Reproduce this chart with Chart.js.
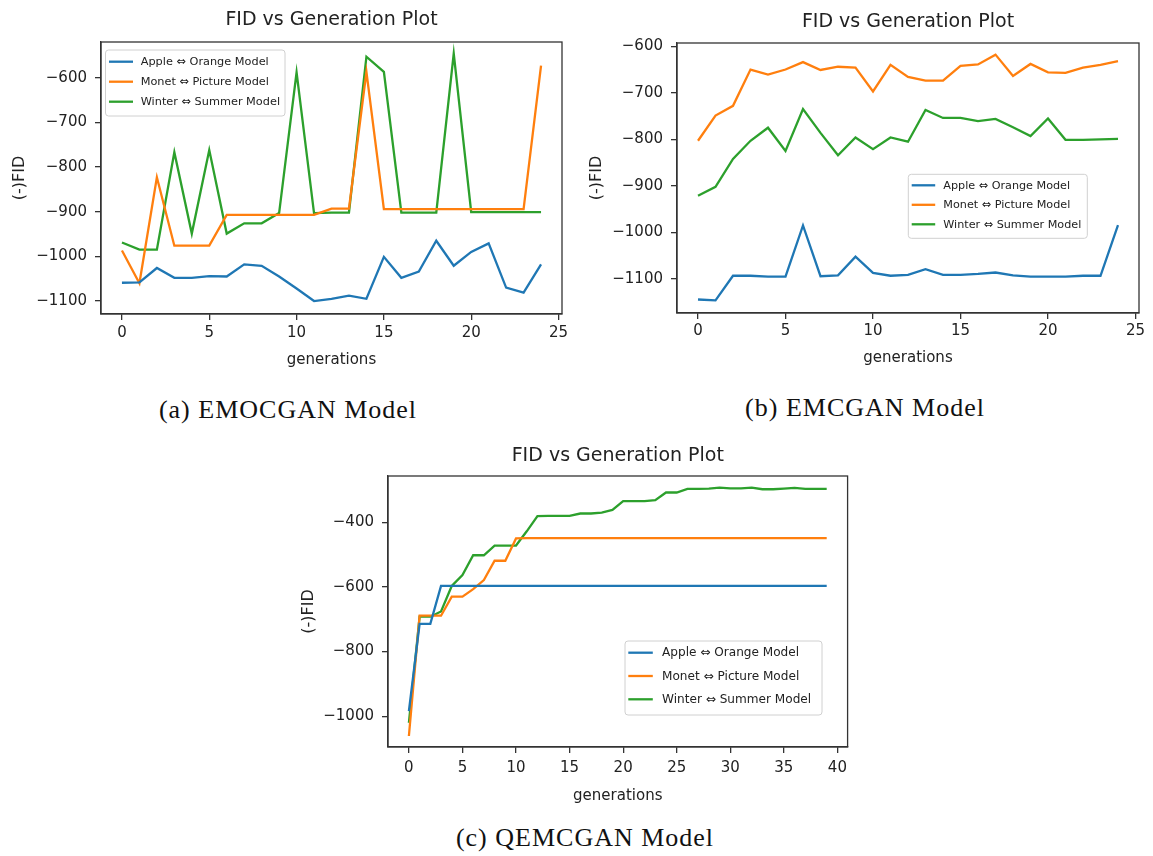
<!DOCTYPE html>
<html>
<head>
<meta charset="utf-8">
<script src="https://cdn.jsdelivr.net/npm/chart.js@4.4.1/dist/chart.umd.min.js"></script>
<style>
body { margin: 0; background: #fff; }
#page { position: relative; width: 1153px; height: 856px; overflow: hidden; background: #fff; }
canvas { position: absolute; }
.cap { position: absolute; font-family: "Liberation Serif", serif; font-size: 26px; letter-spacing: 1px; line-height: 30px; color: #111; white-space: nowrap; transform: translateX(-50%); }
</style>
</head>
<body>
<div id="page">
  <canvas id="chartA" width="580" height="375" style="left:0px;top:0px"></canvas>
  <canvas id="chartB" width="573" height="375" style="left:580px;top:0px"></canvas>
  <canvas id="chartC" width="563" height="380" style="left:290px;top:430px"></canvas>
  <div class="cap" style="left:288px;top:395px">(a) EMOCGAN Model</div>
  <div class="cap" style="left:865px;top:393px">(b) EMCGAN Model</div>
  <div class="cap" style="left:585px;top:823px">(c) QEMCGAN Model</div>
</div>
<script>
// series names and colours (matplotlib tab10)
let seriesNames = ["Apple \u21D4 Orange Model", "Monet \u21D4 Picture Model", "Winter \u21D4 Summer Model"];
let lineColors = ["#1f77b4", "#ff7f0e", "#2ca02c"];

let gens25 = [0, 1, 2, 3, 4, 5, 6, 7, 8, 9, 10, 11, 12, 13, 14, 15, 16, 17, 18, 19, 20, 21, 22, 23, 24];
let gens40 = [0, 1, 2, 3, 4, 5, 6, 7, 8, 9, 10, 11, 12, 13, 14, 15, 16, 17, 18, 19,
	20, 21, 22, 23, 24, 25, 26, 27, 28, 29, 30, 31, 32, 33, 34, 35, 36, 37, 38, 39];

// tick values
let xTicks25 = [0, 5, 10, 15, 20, 25];
let xTicks40 = [0, 5, 10, 15, 20, 25, 30, 35, 40];
let yTicksA = [-1100, -1000, -900, -800, -700, -600];
let yTicksB = [-1100, -1000, -900, -800, -700, -600];
let yTicksC = [-1000, -800, -600, -400];

// (a) EMOCGAN
let appleA = [-1059, -1058, -1026, -1048, -1048, -1044, -1045, -1018, -1021, -1045, -1072, -1100, -1095,
	-1088, -1095, -1001, -1048, -1034, -965, -1021, -990, -971, -1070, -1081, -1018];
let monetA = [-987, -1060, -823, -976, -976, -976, -907, -907, -907, -907, -907, -907, -893,
	-893, -587, -894, -894, -894, -894, -894, -894, -894, -894, -894, -573];
let winterA = [-969, -985, -985, -767, -949, -762, -949, -926, -926, -903, -588, -903, -902,
	-902, -553, -587, -902, -902, -902, -546, -901, -901, -901, -901, -901];

// (b) EMCGAN
let appleB = [-1144, -1146, -1093, -1093, -1095, -1095, -985, -1094, -1092, -1052, -1087, -1093, -1091,
	-1079, -1091, -1091, -1089, -1086, -1092, -1095, -1095, -1095, -1093, -1093, -984];
let monetB = [-803, -749, -728, -650, -661, -650, -634, -651, -644, -646, -697, -640, -666,
	-674, -674, -642, -639, -618, -664, -638, -656, -657, -646, -640, -632];
let winterB = [-921, -902, -842, -803, -775, -825, -735, -786, -834, -796, -821, -796, -805,
	-737, -754, -754, -761, -756, -774, -793, -755, -801, -801, -800, -799];

// (c) QEMCGAN
let appleC = [-984, -714, -714, -597, -597, -597, -597, -597, -597, -597, -597, -597, -597, -597,
	-597, -597, -597, -597, -597, -597, -597, -597, -597, -597, -597, -597, -597, -597,
	-597, -597, -597, -597, -597, -597, -597, -597, -597, -597, -597, -597];
let monetC = [-1061, -689, -689, -689, -630, -630, -607, -579, -519, -519, -450, -449, -449, -449,
	-449, -449, -449, -449, -449, -449, -449, -449, -449, -449, -449, -449, -449, -449,
	-449, -449, -449, -449, -449, -449, -449, -449, -449, -449, -449, -449];
let winterC = [-1020, -692, -692, -676, -597, -563, -502, -502, -472, -472, -472, -428, -381, -380,
	-380, -380, -373, -373, -370, -362, -335, -335, -335, -332, -308, -308, -297, -297,
	-296, -293, -295, -295, -293, -298, -298, -296, -294, -297, -297, -297];

let plotTitle = "FID vs Generation Plot";
let xTitle = "generations";
let yTitle = "(-)FID";

let ink = "#222";
let axisInk = "#333";

// frame, title and a matplotlib-like legend box drawn on top
let framePlugin = {
	id: "frame",
	afterDraw(chart, args, opts) {
		let ctx = chart.ctx;
		let a = chart.chartArea;
		ctx.save();
		ctx.strokeStyle = axisInk;
		ctx.lineWidth = 1.3;
		ctx.strokeRect(a.left, a.top, a.right - a.left, a.bottom - a.top);

		ctx.fillStyle = ink;
		ctx.font = "19px 'DejaVu Sans'";
		ctx.textAlign = "center";
		ctx.textBaseline = "middle";
		ctx.fillText(plotTitle, (a.left + a.right) / 2, opts.titleY);

		let lg = opts.legend;
		ctx.fillStyle = "rgba(255,255,255,0.85)";
		ctx.strokeStyle = "#d0d0d0";
		ctx.lineWidth = 1;
		ctx.beginPath();
		ctx.roundRect(lg.x, lg.y, lg.w, lg.h, 3);
		ctx.fill();
		ctx.stroke();

		ctx.font = lg.size + "px 'DejaVu Sans'";
		ctx.textAlign = "left";
		chart.data.datasets.forEach((ds, i) => {
			let y = lg.row0 + i * lg.gap;
			ctx.strokeStyle = ds.borderColor;
			ctx.lineWidth = 2.3;
			ctx.beginPath();
			ctx.moveTo(lg.lineX, y);
			ctx.lineTo(lg.lineX + lg.lineLen, y);
			ctx.stroke();
			ctx.fillStyle = ink;
			ctx.fillText(ds.label, lg.textX, y + 0.5);
		});
		ctx.restore();
	},
};

let minusTick = (v) => (v < 0 ? "\u2212" + Math.abs(v) : String(v));

let makeSets = (gens, series) =>
	series.map((vals, i) => ({
		label: seriesNames[i],
		data: gens.map((g, j) => ({ x: g, y: vals[j] })),
		borderColor: lineColors[i],
		backgroundColor: lineColors[i],
		borderWidth: 2.3,
		pointRadius: 0,
		tension: 0,
		fill: false,
	}));

let renderChart = (id, gens, series, p) => {
	new Chart(document.getElementById(id), {
		type: "line",
		data: { datasets: makeSets(gens, series) },
		plugins: [framePlugin],
		options: {
			responsive: false,
			animation: false,
			layout: { padding: { left: 0, right: p.padRight, top: p.padTop, bottom: 0 } },
			plugins: {
				legend: { display: false },
				tooltip: { enabled: false },
				frame: { titleY: p.titleY, legend: p.legend },
			},
			scales: {
				x: {
					type: "linear",
					min: p.xMin,
					max: p.xMax,
					afterFit: (s) => { s.height = p.xAxisH; },
					afterBuildTicks: (s) => { s.ticks = p.xTicks.map((v) => ({ value: v })); },
					ticks: { color: ink, padding: p.xTickPad, font: { family: "DejaVu Sans", size: 15 }, maxRotation: 0 },
					grid: { drawOnChartArea: false, tickLength: 6, color: axisInk, lineWidth: 1.3 },
					border: { color: axisInk, width: 1.3 },
					title: { display: true, text: xTitle, color: ink, font: { family: "DejaVu Sans", size: 15 },
						padding: { top: 0, bottom: p.xTitlePad } },
				},
				y: {
					type: "linear",
					min: p.yMin,
					max: p.yMax,
					afterFit: (s) => { s.width = p.yAxisW; },
					afterBuildTicks: (s) => { s.ticks = p.yTicks.map((v) => ({ value: v })); },
					ticks: { color: ink, padding: 8, font: { family: "DejaVu Sans", size: 15 }, callback: minusTick },
					grid: { drawOnChartArea: false, tickLength: 6, color: axisInk, lineWidth: 1.3 },
					border: { color: axisInk, width: 1.3 },
					title: { display: true, text: yTitle, color: ink, font: { family: "DejaVu Sans", size: 16 },
						padding: { top: p.yTitlePad, bottom: 0 } },
				},
			},
		},
	});
};

renderChart("chartA", gens25, [appleA, monetA, winterA], {
	padRight: 18, padTop: 42, xAxisH: 61, yAxisW: 101, titleY: 20,
	xMin: -1.2, xMax: 25.2, yMin: -1129, yMax: -520, xTicks: xTicks25, yTicks: yTicksA,
	xTickPad: 4, xTitlePad: 6, yTitlePad: 10,
	legend: { x: 105.5, y: 50, w: 179.5, h: 66, row0: 61.7, gap: 20, lineX: 109, lineLen: 24, textX: 140.7, size: 11.3 },
});

renderChart("chartB", gens25, [appleB, monetB, winterB], {
	padRight: 14, padTop: 43, xAxisH: 62, yAxisW: 97, titleY: 22,
	xMin: -1.2, xMax: 25.2, yMin: -1173, yMax: -593, xTicks: xTicks25, yTicks: yTicksB,
	xTickPad: 3, xTitlePad: 8, yTitlePad: 7,
	legend: { x: 328.3, y: 174.3, w: 179, h: 64, row0: 185.3, gap: 19.5, lineX: 331.7, lineLen: 23.5, textX: 363.3, size: 11.2 },
});

renderChart("chartC", gens40, [appleC, monetC, winterC], {
	padRight: 2, padTop: 46, xAxisH: 63, yAxisW: 98, titleY: 26,
	xMin: -1.95, xMax: 40.95, yMin: -1095, yMax: -257, xTicks: xTicks40, yTicks: yTicksC,
	xTickPad: 6, xTitlePad: 5, yTitlePad: 9,
	legend: { x: 335, y: 211, w: 197, h: 74, row0: 222.7, gap: 23.3, lineX: 338.3, lineLen: 24.5, textX: 372, size: 12.1 },
});
</script>
</body>
</html>
